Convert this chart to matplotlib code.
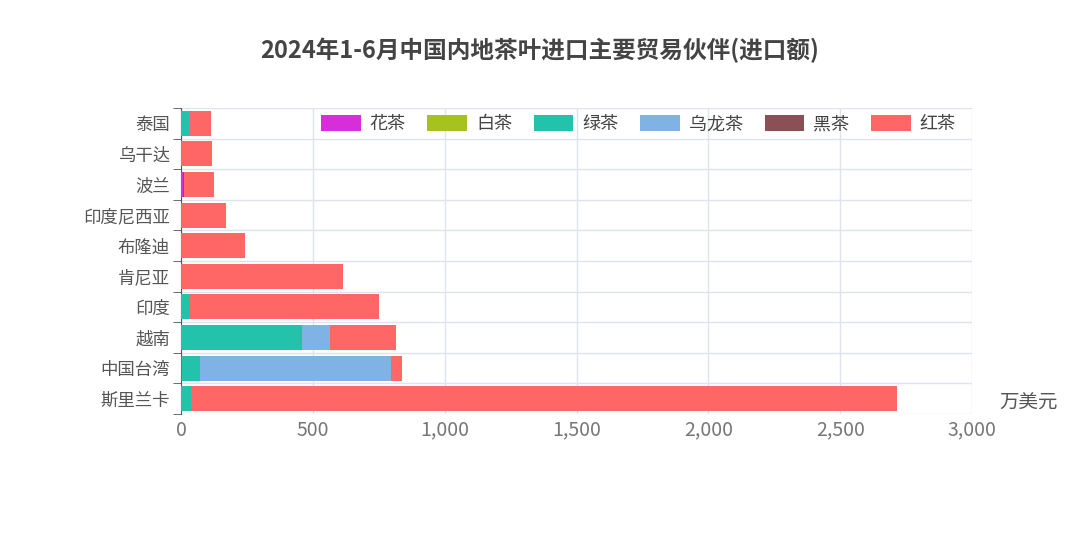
import matplotlib
matplotlib.use("Agg")
import matplotlib.pyplot as plt
from matplotlib import font_manager as fm
import numpy as np

cjk = None
for f in fm.fontManager.ttflist:
    if "CJK" in f.name and ("SC" in f.name or cjk is None):
        cjk = f.name
        if "SC" in f.name:
            break
if cjk is None:
    for path in fm.findSystemFonts():
        if "CJK" in path or "cjk" in path.lower():
            fm.fontManager.addfont(path)
            cjk = fm.FontProperties(fname=path).get_name()
            break
plt.rcParams["font.family"] = "sans-serif"
plt.rcParams["font.sans-serif"] = [cjk or "Noto Sans CJK SC", "DejaVu Sans"]

countries = ["斯里兰卡", "中国台湾", "越南", "印度", "肯尼亚", "布隆迪", "印度尼西亚", "波兰", "乌干达", "泰国"]
series_names = ["花茶", "白茶", "绿茶", "乌龙茶", "黑茶", "红茶"]
colors = ["#d62fd9", "#a6c21f", "#22c3aa", "#7fb2e5", "#8c4f56", "#ff6666"]
flower = [0, 2, 0, 0, 0, 0, 0, 9, 0, 0]
white = [0, 0, 0, 0, 0, 0, 0, 0, 0, 0]
green = [39, 70, 460, 33, 0, 0, 0, 0, 0, 31]
oolong = [0, 723, 105, 0, 0, 0, 0, 0, 0, 0]
dark = [0, 0, 0, 0, 0, 0, 0, 3, 0, 0]
black = [2675, 43, 251, 719, 615, 244, 172, 112, 119, 82]
data = [flower, white, green, oolong, dark, black]

fig = plt.figure(figsize=(10.8, 5.4), dpi=100)
ax = fig.add_axes([181/1080, 1-414/540, (972-181)/1080, (414-108)/540])
y = np.arange(len(countries))
left = np.zeros(len(countries))
for name, vals, c in zip(series_names, data, colors):
    v = np.array(vals, dtype=float)
    ax.barh(y, v, left=left, height=0.82, color=c, label=name, zorder=3)
    left += v

ax.set_xlim(0, 3000)
ax.set_ylim(-0.5, len(countries) - 0.5)
ax.set_yticks(y)
ax.set_yticklabels(countries, fontsize=12.5, color="#555555")
ax.set_xticks([0, 500, 1000, 1500, 2000, 2500, 3000])
ax.set_xticklabels(["0", "500", "1,000", "1,500", "2,000", "2,500", "3,000"], fontsize=14, color="#777777")
ax.set_yticks(np.arange(-0.5, len(countries)), minor=True)
ax.grid(axis="x", color="#e0e3ef", lw=1, zorder=0)
ax.grid(axis="y", which="minor", color="#e0e3ef", lw=1, zorder=0)
ax.tick_params(axis="y", which="major", length=0, pad=8)
ax.tick_params(axis="y", which="minor", length=6, color="#555555")
ax.tick_params(axis="x", length=0, pad=4)
for s in ["top", "right", "bottom"]:
    ax.spines[s].set_visible(False)
ax.spines["left"].set_color("#555555")
ax.text(1.035, 0.0, "万美元", transform=ax.transAxes, fontsize=14, color="#555555", va="bottom", ha="left")

ax.legend(loc="upper right", ncol=6, frameon=False, fontsize=13, handlelength=2.2, handleheight=1.0,
          columnspacing=1.2, handletextpad=0.5, bbox_to_anchor=(1.0, 1.03), labelcolor="#444444")

fig.suptitle("2024年1-6月中国内地茶叶进口主要贸易伙伴(进口额)", y=0.93, fontsize=17, fontweight="bold", color="#444444")
fig.savefig("out.png", dpi=100, facecolor="white")
